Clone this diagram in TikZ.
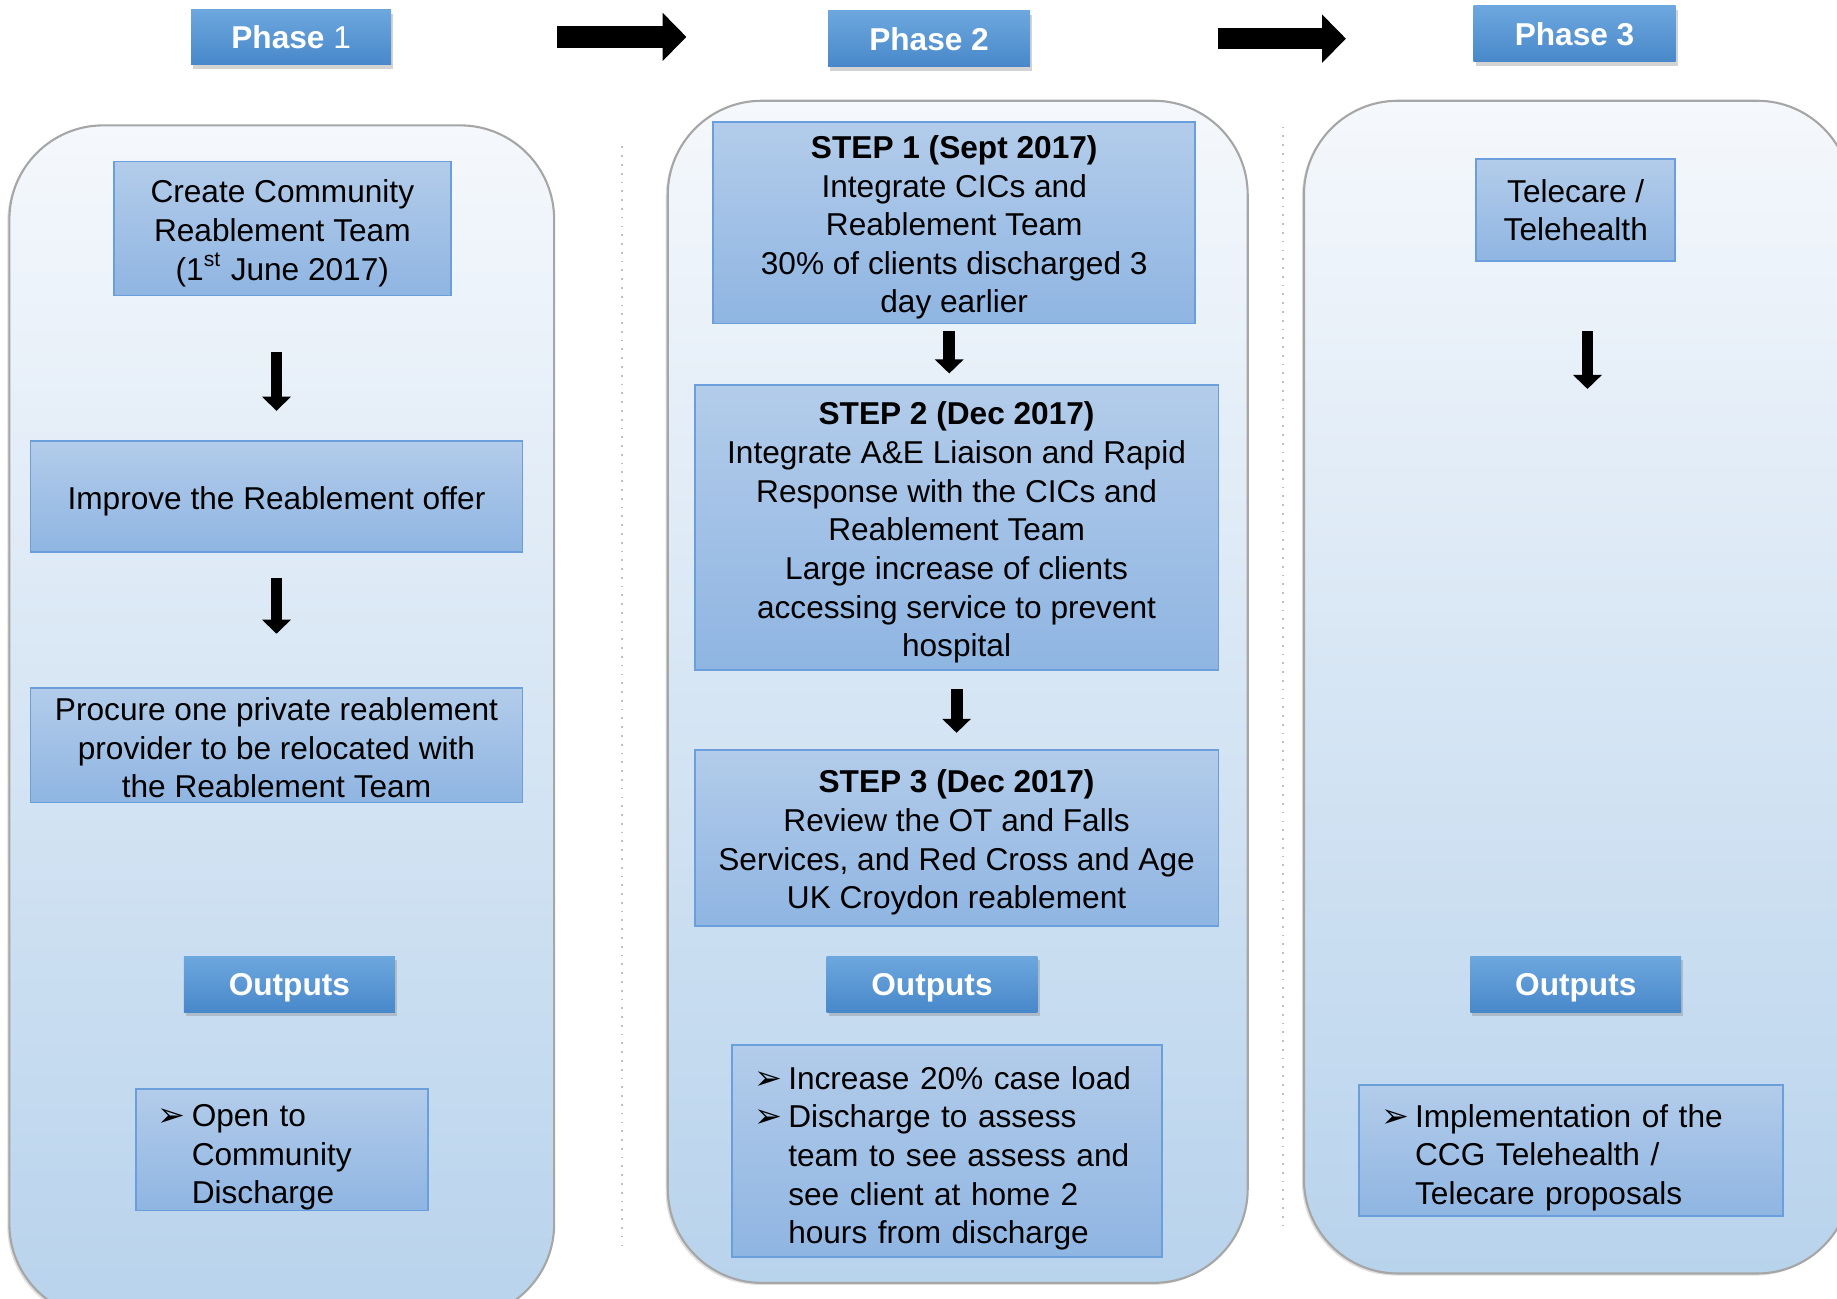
\documentclass[tikz,border=0pt]{standalone}
\usepackage{fontspec}
\setmainfont{Liberation Sans}
\newfontfamily\dingfont{DejaVu Sans}
\usetikzlibrary{arrows.meta,shadows}

\definecolor{panelTop}{HTML}{F5F8FC}
\definecolor{panelBot}{HTML}{B8D3EC}
\definecolor{boxTop}{HTML}{B3CCEA}
\definecolor{boxBot}{HTML}{8FB5E2}
\definecolor{boxEdge}{HTML}{6A9FDB}
\definecolor{headTop}{HTML}{6DA7DE}
\definecolor{headBot}{HTML}{4888CA}

\newcommand{\tstrut}{\rule{0pt}{9.3pt}}
\newcommand{\bitem}{\makebox[0.34cm][l]{\dingfont\fontsize{9.5}{11}\selectfont\char"27A2}}
\newcommand{\bcont}{\hspace*{0.34cm}}

\begin{document}
\begin{tikzpicture}[x=0.011716cm, y=-0.011716cm,
	every node/.style={font=\fontsize{9}{11}\selectfont},
	panel/.style={draw=black!35, line width=0.6pt, rounded corners=0.94cm, top color=panelTop, bottom color=panelBot,
		drop shadow={shadow xshift=-0.6pt, shadow yshift=-0.6pt, opacity=0.25}},
	stepbox/.style={draw=boxEdge, line width=0.5pt, top color=boxTop, bottom color=boxBot, align=center, inner sep=0pt},
	listbox/.style={stepbox, align=left, inner xsep=0.22cm, execute at begin node={\rule{0pt}{10.6pt}}},
	phasehead/.style={top color=headTop, bottom color=headBot, text=white, inner sep=0pt, text height=6.6pt, text depth=0pt,
		font=\fontsize{9}{11}\selectfont\bfseries, minimum width=2.02cm, minimum height=0.56cm,
		drop shadow={shadow xshift=0.6pt, shadow yshift=-1.2pt, opacity=0.35}},
	bigarrow/.style={line width=6.1pt, -{Triangle[length=6.8pt,width=13.4pt]}},
	downarrow/.style={line width=3.4pt, -{Triangle[length=4pt,width=8pt]}},
	sep/.style={black!25, dotted, line width=0.5pt}]
		\clip (0,0) rectangle (1568,1108);
		% columns
		\draw[sep] (531,125) -- (531,1065);
		\draw[sep] (1095,108) -- (1095,1050);
		\draw[panel] (8,107) rectangle (473,1125);
		\draw[panel] (570,86) rectangle (1065,1095);
		\draw[panel] (1113,86) rectangle (1580,1087);

		\node [phasehead, minimum width=2.00cm, minimum height=0.55cm] (h1) at (248.5,31.5) {Phase \mdseries 1};
		\node [phasehead] (h2) at (793,33) {Phase 2};
		\node [phasehead] (h3) at (1344,29) {Phase 3};
		\draw[bigarrow, shorten <=1.65cm, shorten >=1.41cm] (h1.east) -- (h1.east -| h2.west);
		\draw[bigarrow, shorten <=1.87cm, shorten >=1.27cm] (h2.east) -- (h2.east -| h3.west);

		% phase 1
		\node [stepbox, minimum width=3.37cm, minimum height=1.34cm] (b1) at (241,195) {\tstrut Create Community\\Reablement Team\\(1\textsuperscript{st} June 2017)};
		\node [stepbox, minimum width=4.92cm, minimum height=1.11cm] (b2) at (236,423.5) {\tstrut Improve the Reablement offer};
		\node [stepbox, minimum width=4.92cm, minimum height=1.15cm] (b3) at (236,636) {\rule{0pt}{8pt}Procure one private reablement\\provider to be relocated with\\the Reablement Team};
		\draw[downarrow, shorten <=0.56cm, shorten >=0.29cm] (b1.south -| b2.north) -- (b2.north);
		\draw[downarrow, shorten <=0.25cm, shorten >=0.53cm] (b2) -- (b3);
		\node [phasehead, minimum width=2.11cm] (o1) at (247,840) {Outputs};
		\node [listbox, text width=2.48cm, minimum height=1.16cm] (l1) at (240.5,981.5) {\bitem Open to\\\bcont Community\\\bcont Discharge};

		% phase 2
		\node [stepbox, minimum width=4.82cm, minimum height=2.02cm] (s1) at (814.5,190) {\tstrut\textbf{STEP 1 (Sept 2017)}\\Integrate CICs and\\Reablement Team\\30\% of clients discharged 3\\day earlier};
		\node [stepbox, minimum width=5.24cm, minimum height=2.85cm] (s2) at (816.5,450.5) {\tstrut\textbf{STEP 2 (Dec 2017)}\\Integrate A\&E Liaison and Rapid\\Response with the CICs and\\Reablement Team\\Large increase of clients\\accessing service to prevent\\hospital};
		\node [stepbox, minimum width=5.24cm, minimum height=1.76cm] (s3) at (816.5,715) {\tstrut\textbf{STEP 3 (Dec 2017)}\\Review the OT and Falls\\Services, and Red Cross and Age\\UK Croydon reablement};
		\draw[downarrow, shorten <=0.07cm, shorten >=0.11cm] ([xshift=-0.05cm]s1.south) -- ([xshift=-0.05cm]s1.south |- s2.north);
		\draw[downarrow, shorten <=0.18cm, shorten >=0.16cm] (s2) -- (s3);
		\node [phasehead, minimum width=2.11cm] (o2) at (795.5,840) {Outputs};
		\node [listbox, text width=3.86cm, minimum height=2.12cm] (l2) at (808.5,982.5) {\bitem Increase 20\% case load\\\bitem Discharge to assess\\\bcont team to see assess and\\\bcont see client at home 2\\\bcont hours from discharge};

		% phase 3
		\node [stepbox, minimum width=1.99cm, minimum height=1.02cm] (t1) at (1345,179.5) {Telecare /\\Telehealth};
		\coordinate (t1end) at (1355,332);
		\draw[downarrow, shorten <=0.69cm] (t1.south -| t1end) -- (t1end);
		\node [phasehead, minimum width=2.11cm] (o3) at (1345,840) {Outputs};
		\node [listbox, text width=3.80cm, minimum height=1.31cm] (l3) at (1341,982) {\bitem Implementation of the\\\bcont CCG Telehealth /\\\bcont Telecare proposals};
\end{tikzpicture}
\end{document}
